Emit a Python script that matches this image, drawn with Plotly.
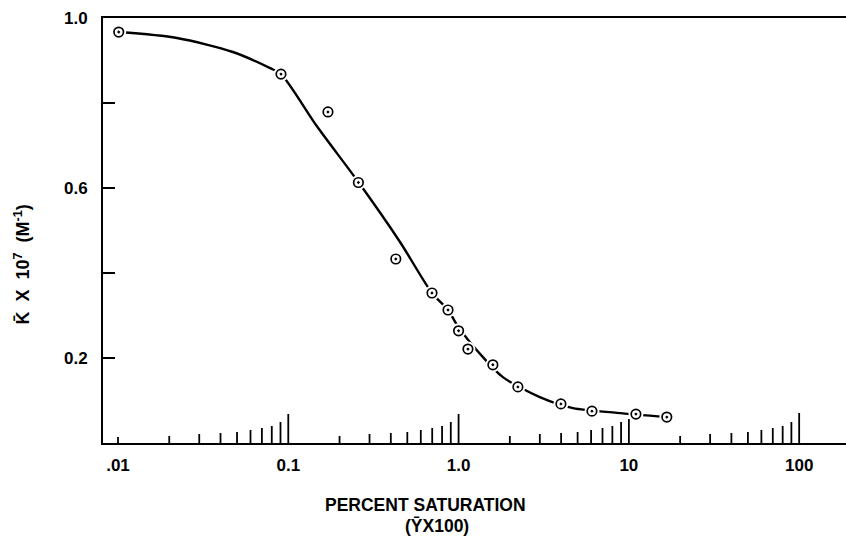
import numpy as np
import plotly.graph_objects as go

# Measured binding constant vs. fractional saturation
saturation_pct = [0.0101, 0.0906, 0.171, 0.258, 0.428, 0.698, 0.867, 1.0, 1.135,
                  1.59, 2.23, 3.99, 6.07, 11.0, 16.7]
k_bar = [0.967, 0.868, 0.779, 0.613, 0.433, 0.353, 0.313, 0.264, 0.221,
         0.184, 0.132, 0.092, 0.075, 0.068, 0.061]

# Smooth fitted curve (control points for spline)
curve_x = [0.0101, 0.0222, 0.0473, 0.0782, 0.0906, 0.148, 0.258, 0.453, 0.698,
           0.867, 1.0, 1.39, 1.82, 3.0, 4.70, 8.51, 16.7]
curve_y = [0.967, 0.953, 0.920, 0.882, 0.868, 0.744, 0.614, 0.473, 0.353,
           0.313, 0.272, 0.202, 0.155, 0.108, 0.082, 0.071, 0.061]

x_tickvals = [0.01, 0.1, 1, 10, 100]
x_ticktext = [".01", "0.1", "1.0", "10", "100"]
y_tickvals = [0.2, 0.4, 0.6, 0.8, 1.0]
y_ticktext = ["0.2", "", "0.6", "", "1.0"]

# Graduated ruler ticks along the bottom axis
decades = [0.01, 0.1, 1, 10]
digit_heights = [7, 9, 10, 11, 13, 15, 17, 21]   # digits 2..9
decade_end_heights = [29, 29, 24, 30]             # 0.1, 1, 10, 100
first_tick_height = 6                             # .01

FONT = "Liberation Sans"

fig = go.Figure()

fig.add_trace(go.Scatter(
    x=curve_x, y=curve_y, mode="lines",
    line=dict(color="black", width=2.4, shape="spline", smoothing=0.8),
    hoverinfo="skip", showlegend=False))

# white halo so the curve breaks around each marker
fig.add_trace(go.Scatter(
    x=saturation_pct, y=k_bar, mode="markers",
    marker=dict(symbol="circle", size=15, color="white", line=dict(width=0)),
    hoverinfo="skip", showlegend=False))

fig.add_trace(go.Scatter(
    x=saturation_pct, y=k_bar, mode="markers",
    marker=dict(symbol="circle-open-dot", size=9.5, color="black",
                line=dict(color="black", width=1.7)),
    showlegend=False))

shapes = []

def tick(xv, h):
    shapes.append(dict(type="line", xref="x", yref="y", ysizemode="pixel",
                       yanchor=0, x0=xv, x1=xv, y0=0, y1=h,
                       line=dict(color="black", width=1.8)))

tick(decades[0], first_tick_height)
for d, end_h in zip(decades, decade_end_heights):
    for digit, h in zip(range(2, 10), digit_heights):
        tick(d * digit, h)
    tick(d * 10, end_h)

fig.update_layout(
    width=846, height=540,
    margin=dict(l=103, r=0, t=18, b=97),
    paper_bgcolor="white", plot_bgcolor="white",
    font=dict(family=FONT, size=17, color="black", weight="bold"),
    shapes=shapes,
    xaxis=dict(
        type="log", range=[np.log10(0.01) - 0.088, 2.275],
        tickvals=x_tickvals, ticktext=x_ticktext, ticks="",
        showgrid=False, zeroline=False,
        showline=True, linecolor="black", linewidth=2, mirror=True,
        ticklabelstandoff=6,
        tickfont=dict(family=FONT, size=17, weight="bold")),
    yaxis=dict(
        range=[0, 1.0], tickvals=y_tickvals, ticktext=y_ticktext,
        ticks="inside", ticklen=12, tickwidth=1.5, tickcolor="black",
        showgrid=False, zeroline=False,
        showline=True, linecolor="black", linewidth=2, mirror=False,
        ticklabelstandoff=10,
        tickfont=dict(family=FONT, size=17, weight="bold")),
    annotations=[
        dict(text="PERCENT SATURATION", xref="paper", yref="paper",
             x=0.4347, y=0, yanchor="middle", yshift=-62, showarrow=False,
             font=dict(family=FONT, size=17.5, weight="bold")),
        dict(text="(ȲX100)", xref="paper", yref="paper",
             x=0.4495, y=0, yanchor="middle", yshift=-83, showarrow=False,
             font=dict(family=FONT, size=17.5, weight="bold")),
        dict(text="K̄  X  10<sup>7</sup>  (M<sup>-1</sup>)", xref="paper", yref="paper",
             x=0, xshift=-94, y=0.419, textangle=-90, showarrow=False,
             font=dict(family=FONT, size=18, weight="bold")),
    ],
)

fig.write_html("out.html")
